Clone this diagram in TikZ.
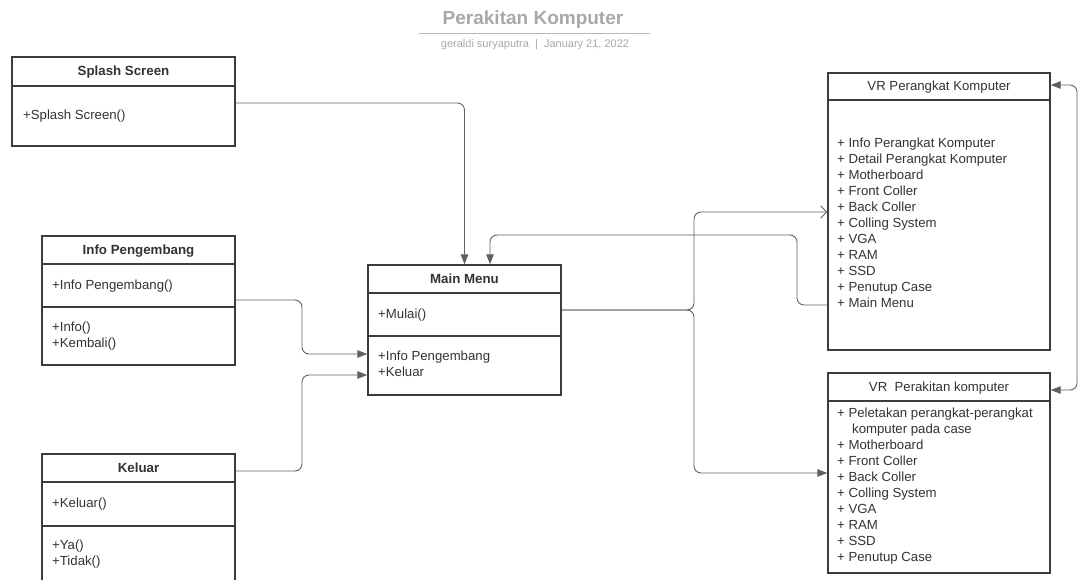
\documentclass[tikz,border=0pt]{standalone}
\usepackage{fontspec}
\setmainfont{Liberation Sans}
\usetikzlibrary{arrows.meta}
\definecolor{ink}{HTML}{333333}
\definecolor{boxline}{HTML}{3C3C3C}
\definecolor{wire}{HTML}{606060}
\definecolor{titlegray}{HTML}{A5A8AE}
\tikzset{
  cls/.style={draw=boxline, line width=1.4pt, rectangle, inner sep=0pt, fill=white},
  sep/.style={draw=boxline, line width=1.4pt},
  hdr/.style={anchor=base, inner sep=0pt, text=ink, font=\fontsize{13.3}{16}\selectfont\bfseries},
  hdrlight/.style={anchor=base, inner sep=0pt, text=ink, font=\fontsize{13.2}{16}\selectfont},
  item/.style={anchor=base west, inner sep=0pt, text=ink, font=\fontsize{13.2}{16}\selectfont},
  wirepath/.style={draw=wire, line width=0.9pt, rounded corners=7pt},
  solidtip/.style={-{Triangle[length=10pt,width=7.5pt]}},
  opentip/.style={-{Straight Barb[length=6pt,width=12pt,line width=0.9pt]}},
}
\begin{document}
\begin{tikzpicture}[x=1pt,y=-1pt]
\useasboundingbox (0,0) rectangle (1083,580);

% heading
\node[anchor=base, inner sep=0pt, text=titlegray, font=\fontsize{19}{22}\selectfont\bfseries] (title) at (533,24.5) {Perakitan Komputer};
\draw[draw=titlegray!80, line width=0.9pt] (419,33) coordinate (ruleL) -- (650,33) coordinate (ruleR);
\node[anchor=base, inner sep=0pt, text=titlegray, font=\fontsize{11}{13}\selectfont] (byline) at (535,48) {geraldi suryaputra \ | \ January 21, 2022};

% Splash Screen
\node[cls, minimum width=223pt, minimum height=89pt] (splash) at (123.5,101.5) {};
\draw[sep] (12,86) -- (235,86);
\node[hdr] (splashH) at (123.5,76) {Splash Screen};
\node[item] (splash1) at (23,119.5) {+Splash Screen()};

% Info Pengembang
\node[cls, minimum width=193pt, minimum height=129pt] (info) at (138.5,300.5) {};
\draw[sep] (42,264) -- (235,264);
\draw[sep] (42,307) -- (235,307);
\node[hdr] (infoH) at (138.5,254.5) {Info Pengembang};
\node[item] (info1) at (52,289.5) {+Info Pengembang()};
\node[item] (info2) at (52,331) {+Info()};
\node[item] (info3) at (52,347) {+Kembali()};

% Keluar (runs past the lower edge)
\node[cls, minimum width=193pt, minimum height=146pt] (kel) at (138.5,527) {};
\draw[sep] (42,482) -- (235,482);
\draw[sep] (42,526) -- (235,526);
\node[hdr] (kelH) at (138.5,472.5) {Keluar};
\node[item] (kel1) at (52,507) {+Keluar()};
\node[item] (kel2) at (52,549.5) {+Ya()};
\node[item] (kel3) at (52,565.5) {+Tidak()};

% Main Menu
\node[cls, minimum width=193pt, minimum height=130pt] (mm) at (464.5,330) {};
\draw[sep] (368,293) -- (561,293);
\draw[sep] (368,336) -- (561,336);
\node[hdr] (mmH) at (464.5,283.5) {Main Menu};
\node[item] (mm1) at (378,318) {+Mulai()};
\node[item] (mm2) at (378,360.5) {+Info Pengembang};
\node[item] (mm3) at (378,376.5) {+Keluar};

% VR Perangkat Komputer
\node[cls, minimum width=222pt, minimum height=277pt] (vrp) at (939,211.5) {};
\draw[sep] (828,100) -- (1050,100);
\node[hdrlight] (vrpH) at (939,91) {VR Perangkat Komputer};
\foreach \t [count=\i] in {Info Perangkat Komputer, Detail Perangkat Komputer, Motherboard, Front Coller, Back Coller, Colling System, VGA, RAM, SSD, Penutup Case, Main Menu}
  \node[item] (vrp-\i) at (837,{131.5+16*\i}) {+ \t};

% VR Perakitan komputer
\node[cls, minimum width=222pt, minimum height=200pt] (vrk) at (939,473) {};
\draw[sep] (828,401) -- (1050,401);
\node[hdrlight] (vrkH) at (939,391.5) {VR\ \ Perakitan komputer};
\node[item] (vrk-0a) at (837,417.5) {+ Peletakan perangkat-perangkat};
\node[item] (vrk-0b) at (852,433.5) {komputer pada case};
\foreach \t [count=\i] in {Motherboard, Front Coller, Back Coller, Colling System, VGA, RAM, SSD, Penutup Case}
  \node[item] (vrk-\i) at (837,{433.5+16*\i}) {+ \t};

% connectors
\draw[wirepath, solidtip] (splash.east |- 0,103) -| (mm.north);
\draw[wirepath, solidtip] (info.east |- 0,300) -| (302,354) -- (mm.west |- 0,354);
\draw[wirepath, solidtip] (kel.east |- 0,471) -| (302,375) -- (mm.west |- 0,375);
\draw[wirepath, opentip] (mm.east |- 0,310) -| (694,212) -- (vrp.west |- 0,212);
\draw[wirepath, solidtip] (mm.east |- 0,310) -| (694,473) -- (vrk.west |- 0,473);
\draw[wirepath, solidtip] (vrp.west |- 0,305) -| (797,235) -| (490,0 |- mm.north);
\draw[wirepath, {Triangle[length=10pt,width=7.5pt]}-{Triangle[length=10pt,width=7.5pt]}] (vrp.east |- 0,85) -| (1077,390) -- (vrk.east |- 0,390);
\end{tikzpicture}
\end{document}
